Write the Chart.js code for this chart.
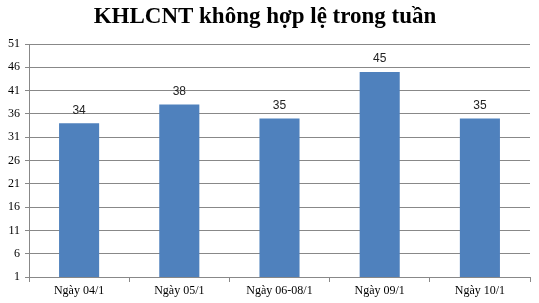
<!DOCTYPE html>
<html lang="vi">
<head>
<meta charset="UTF-8">
<title>KHLCNT không hợp lệ trong tuần</title>
<script src="https://cdn.jsdelivr.net/npm/chart.js"></script>
<style>
  html, body { margin: 0; padding: 0; background: #fff; }
  #wrap { width: 539px; height: 303px; }
</style>
</head>
<body>
<div id="wrap"><canvas id="chart" width="539" height="303"></canvas></div>
<script>
// data
const categories = ['Ngày 04/1', 'Ngày 05/1', 'Ngày 06-08/1', 'Ngày 09/1', 'Ngày 10/1'];
const counts = [34, 38, 35, 45, 35];
const yMin = 1, yMax = 51, yStep = 5;

// draws the value above each bar
const valueLabels = {
  id: 'valueLabels',
  afterDatasetsDraw(chart) {
    const ctx = chart.ctx;
    const meta = chart.getDatasetMeta(0);
    ctx.save();
    ctx.font = '12px "Liberation Sans", Arial, sans-serif';
    ctx.fillStyle = '#222';
    ctx.textAlign = 'center';
    ctx.textBaseline = 'middle';
    meta.data.forEach((bar, i) => {
      ctx.fillText(String(counts[i]), bar.x, bar.y - 13);
    });
    ctx.restore();
  }
};

new Chart(document.getElementById('chart'), {
  type: 'bar',
  data: {
    labels: categories,
    datasets: [{
      data: counts,
      backgroundColor: '#4F81BD',
      borderWidth: 0,
      barPercentage: 0.4,
      categoryPercentage: 1.0
    }]
  },
  options: {
    responsive: false,
    animation: false,
    layout: { padding: { left: 0, right: 9, top: 0, bottom: 0 } },
    plugins: {
      legend: { display: false },
      tooltip: { enabled: false },
      title: {
        display: true,
        text: 'KHLCNT không hợp lệ trong tuần',
        color: '#000',
        font: { family: '"Liberation Serif", "Times New Roman", serif', size: 23, weight: 'bold', lineHeight: 1 },
        padding: { top: 6, bottom: 15 }
      }
    },
    scales: {
      x: {
        afterFit(axis) { axis.height = 26; },
        grid: {
          offset: true,
          drawOnChartArea: false,
          drawTicks: true,
          tickLength: 5,
          color: '#888'
        },
        border: { color: '#888' },
        ticks: {
          color: '#000',
          padding: 2,
          font: { family: '"Liberation Serif", "Times New Roman", serif', size: 12 }
        }
      },
      y: {
        min: yMin,
        max: yMax,
        afterFit(axis) { axis.width = 29; },
        afterBuildTicks(axis) {
          const t = [];
          for (let v = yMin; v <= yMax; v += yStep) t.push({ value: v });
          axis.ticks = t;
        },
        grid: { color: '#888', tickLength: 4 },
        border: { color: '#888' },
        ticks: {
          color: '#000',
          padding: 5,
          font: { family: '"Liberation Serif", "Times New Roman", serif', size: 12 }
        }
      }
    }
  },
  plugins: [valueLabels]
});
</script>
</body>
</html>
